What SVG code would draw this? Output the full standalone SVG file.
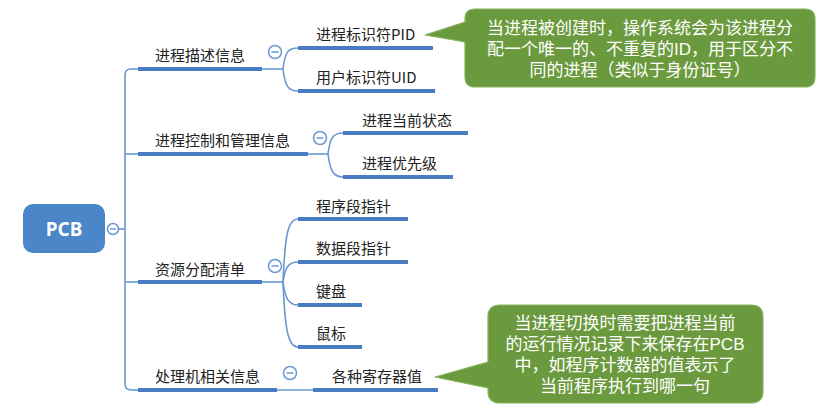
<svg xmlns="http://www.w3.org/2000/svg" width="837" height="415" viewBox="0 0 837 415">
<defs>
<style>
.bg{fill:#ffffff}
.t{font-family:"Noto Sans CJK SC","Noto Sans",sans-serif;font-size:15px;fill:#222222;dominant-baseline:central}
.u{stroke:#4a7cc3;stroke-width:4;fill:none;stroke-linecap:butt}
.c{stroke:#6a98d2;stroke-width:1.6;fill:none}
.col{fill:#ffffff;stroke:#6a98d2;stroke-width:1.5}
.mn{stroke:#6a98d2;stroke-width:1.5}
.call{fill:#6b9a3e;stroke:#86b25a;stroke-width:1.2}
.ct{font-family:"Liberation Sans","Noto Sans CJK SC",sans-serif;font-size:17px;fill:#ffffff;text-anchor:middle;dominant-baseline:central}
</style>
</defs>
<rect class="bg" x="0" y="0" width="837" height="415"/>

<g id="connectors">
  <path class="c" d="M118,229 H125"/>
  <path class="c" d="M131,69 Q125,69 125,75 V384 Q125,390 131,390"/>
  <path class="c" d="M125,154 H138"/>
  <path class="c" d="M125,282 H138"/>
  <path class="c" d="M131,69 H138"/>
  <path class="c" d="M131,390 H138"/>
  <path class="c" d="M262,69 H283"/>
  <path class="c" d="M283,69 C285,52 288,48 298,48"/>
  <path class="c" d="M283,69 C285,86 288,91 298,91"/>
  <path class="c" d="M308,154 H328"/>
  <path class="c" d="M328,154 C330,138 333,133 343,133"/>
  <path class="c" d="M328,154 C330,170 333,177 343,177"/>
  <path class="c" d="M262,282 H283"/>
  <path class="c" d="M283,282 C285,234 288,219 298,219"/>
  <path class="c" d="M283,282 C285,268 288,262 298,262"/>
  <path class="c" d="M283,282 C285,297 288,305 298,305"/>
  <path class="c" d="M283,282 C285,330 288,347 298,347"/>
  <path class="c" d="M277,390 H313"/>
</g>

<g id="pcb">
  <rect x="23" y="204" width="82" height="49" rx="10" fill="#4a86c8"/>
  <text x="64" y="229" font-family="'Noto Sans','Liberation Sans',sans-serif" font-size="19" font-weight="bold" fill="#ffffff" text-anchor="middle" dominant-baseline="central">PCB</text>
  <circle class="col" cx="113" cy="229" r="5.5"/>
  <line class="mn" x1="110" y1="229" x2="116" y2="229"/>
</g>

<g id="n1">
  <text class="t" x="155" y="54">进程描述信息</text>
  <line class="u" x1="138" y1="69" x2="262" y2="69"/>
  <circle class="col" cx="275" cy="52" r="6.5"/>
  <line class="mn" x1="271.5" y1="52" x2="278.5" y2="52"/>
</g>
<g id="n1a">
  <text class="t" x="316" y="33">进程标识符PID</text>
  <line class="u" x1="298" y1="48" x2="433" y2="48"/>
</g>
<g id="n1b">
  <text class="t" x="316" y="76">用户标识符UID</text>
  <line class="u" x1="298" y1="91" x2="435" y2="91"/>
</g>

<g id="n2">
  <text class="t" x="155" y="139">进程控制和管理信息</text>
  <line class="u" x1="138" y1="154" x2="308" y2="154"/>
  <circle class="col" cx="320" cy="138" r="6.5"/>
  <line class="mn" x1="316.5" y1="138" x2="323.5" y2="138"/>
</g>
<g id="n2a">
  <text class="t" x="362" y="119">进程当前状态</text>
  <line class="u" x1="343" y1="133" x2="468" y2="133"/>
</g>
<g id="n2b">
  <text class="t" x="362" y="162">进程优先级</text>
  <line class="u" x1="343" y1="177" x2="453" y2="177"/>
</g>

<g id="n3">
  <text class="t" x="155" y="268">资源分配清单</text>
  <line class="u" x1="138" y1="282" x2="262" y2="282"/>
  <circle class="col" cx="275" cy="266" r="6.5"/>
  <line class="mn" x1="271.5" y1="266" x2="278.5" y2="266"/>
</g>
<g id="n3a">
  <text class="t" x="316" y="205">程序段指针</text>
  <line class="u" x1="298" y1="219" x2="408" y2="219"/>
</g>
<g id="n3b">
  <text class="t" x="316" y="247">数据段指针</text>
  <line class="u" x1="298" y1="262" x2="408" y2="262"/>
</g>
<g id="n3c">
  <text class="t" x="316" y="290">键盘</text>
  <line class="u" x1="298" y1="305" x2="362" y2="305"/>
</g>
<g id="n3d">
  <text class="t" x="316" y="332">鼠标</text>
  <line class="u" x1="298" y1="347" x2="362" y2="347"/>
</g>

<g id="n4">
  <text class="t" x="155" y="375">处理机相关信息</text>
  <line class="u" x1="138" y1="390" x2="277" y2="390"/>
  <circle class="col" cx="290" cy="373" r="6.5"/>
  <line class="mn" x1="286.5" y1="373" x2="293.5" y2="373"/>
</g>
<g id="n4a">
  <text class="t" x="332" y="375">各种寄存器值</text>
  <line class="u" x1="313" y1="390" x2="438" y2="390"/>
</g>

<g id="callout1">
  <path class="call" d="M475,9 H805 Q815,9 815,19 V77 Q815,87 805,87 H475 Q465,87 465,77 V42 L425,35 L465,22 V19 Q465,9 475,9 Z"/>
  <text class="ct" x="640" y="28">当进程被创建时，操作系统会为该进程分</text>
  <text class="ct" x="640" y="49">配一个唯一的、不重复的ID，用于区分不</text>
  <text class="ct" x="640" y="70">同的进程（类似于身份证号）</text>
</g>

<g id="callout2">
  <path class="call" d="M500,305 H751 Q763,305 763,317 V391 Q763,403 751,403 H500 Q488,403 488,391 V388 L435,377 L488,362 V317 Q488,305 500,305 Z"/>
  <text class="ct" x="625" y="323">当进程切换时需要把进程当前</text>
  <text class="ct" x="625" y="344">的运行情况记录下来保存在PCB</text>
  <text class="ct" x="625" y="365">中，如程序计数器的值表示了</text>
  <text class="ct" x="625" y="386">当前程序执行到哪一句</text>
</g>
</svg>
